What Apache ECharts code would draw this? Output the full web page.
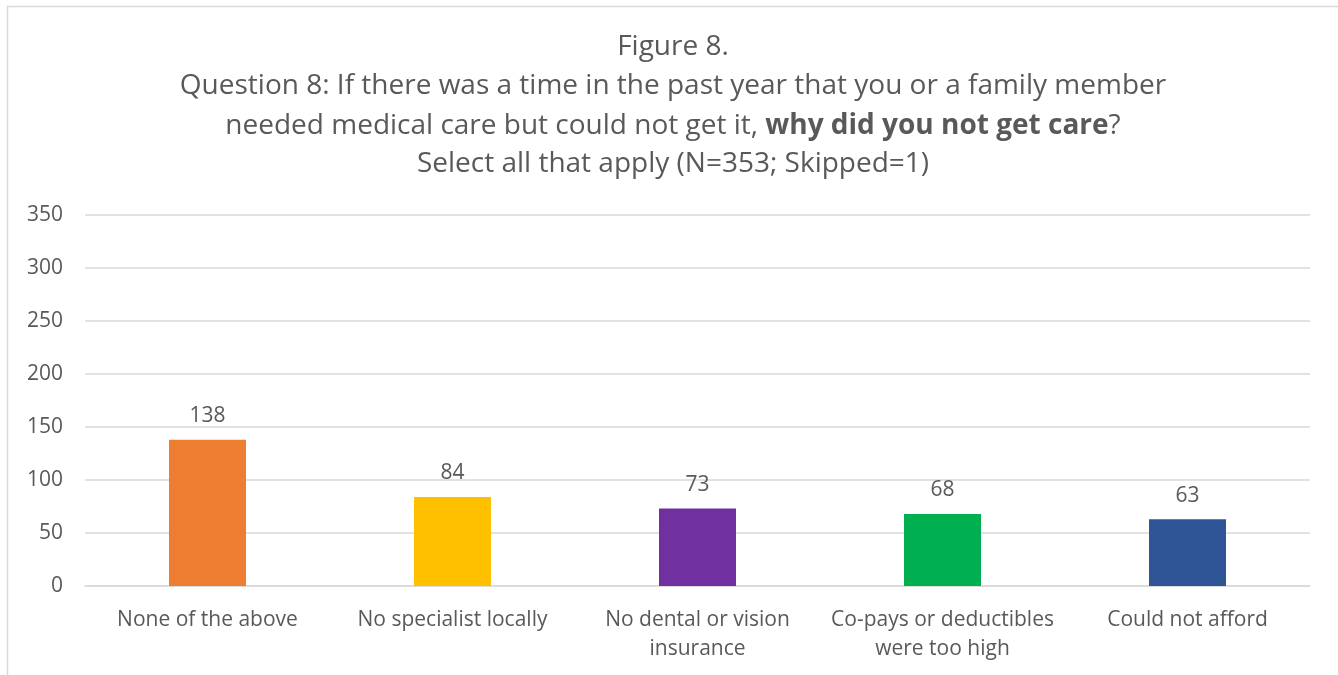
<!DOCTYPE html>
<html>
<head>
<meta charset="utf-8">
<script src="https://cdn.jsdelivr.net/npm/echarts@6/dist/echarts.min.js"></script>
<style>
  html, body { margin: 0; padding: 0; background: #fff; }
  #chart { width: 1338px; height: 675px; }
</style>
</head>
<body>
<div id="chart"></div>
<script>
// Reasons for not getting needed care (multiple answers allowed)
const categories = [
  'None of the above',
  'No specialist locally',
  'No dental or vision\ninsurance',
  'Co-pays or deductibles\nwere too high',
  'Could not afford'
];
const counts = [138, 84, 73, 68, 63];
const barColors = ['#ED7D31', '#FFC000', '#7030A0', '#00B050', '#2F5597'];
const yTicks = { min: 0, max: 350, interval: 50 };
const titleLines = [
  'Figure 8.',
  'Question 8: If there was a time in the past year that you or a family member',
  ['needed medical care but could not get it, ', 'why did you not get care', '?'],
  'Select all that apply (N=353; Skipped=1)'
];

const FONT = '"Open Sans", "Liberation Sans", sans-serif';
const TEXT = '#595959';

const chart = echarts.init(document.getElementById('chart'), null, { renderer: 'canvas' });

// one centred text element per title line, the middle part of line 3 in bold
const titleY = [47, 86, 126, 164];
const titleGraphics = titleLines.map((line, i) => {
  const txt = Array.isArray(line)
    ? '{n|' + line[0] + '}{b|' + line[1] + '}{n|' + line[2] + '}'
    : '{n|' + line + '}';
  return {
    type: 'text',
    x: 673, y: titleY[i],
    silent: true,
    style: {
      text: txt,
      align: 'center',
      verticalAlign: 'middle',
      rich: {
        n: { fontFamily: FONT, fontSize: 28, fill: TEXT, fontWeight: 'normal' },
        b: { fontFamily: FONT, fontSize: 28, fill: TEXT, fontWeight: 'bold' }
      }
    }
  };
});

chart.setOption({
  animation: false,
  backgroundColor: '#ffffff',
  graphic: [
    {
      type: 'polyline',
      shape: { points: [[7.5, 700], [7.5, 6.5], [1340, 6.5]] },
      style: { stroke: '#D9D9D9', lineWidth: 1.5, fill: null },
      silent: true
    }
  ].concat(titleGraphics),
  grid: { left: 85, right: 28, top: 215, bottom: 89, containLabel: false },
  xAxis: {
    type: 'category',
    data: categories,
    axisLine: { show: true, lineStyle: { color: '#D9D9D9', width: 1.5 } },
    axisTick: { show: false },
    axisLabel: {
      color: TEXT, fontFamily: FONT, fontSize: 21, lineHeight: 29, margin: 20,
      interval: 0
    }
  },
  yAxis: {
    type: 'value',
    min: yTicks.min, max: yTicks.max, interval: yTicks.interval,
    axisLine: { show: false },
    axisTick: { show: false },
    splitLine: { lineStyle: { color: '#D9D9D9', width: 1.5 } },
    axisLabel: { color: TEXT, fontFamily: FONT, fontSize: 21, margin: 22 }
  },
  series: [{
    type: 'bar',
    data: counts.map((v, i) => ({ value: v, itemStyle: { color: barColors[i] } })),
    barWidth: 77,
    label: {
      show: true, position: 'top', distance: 13,
      color: TEXT, fontFamily: FONT, fontSize: 21
    }
  }]
});
</script>
</body>
</html>
